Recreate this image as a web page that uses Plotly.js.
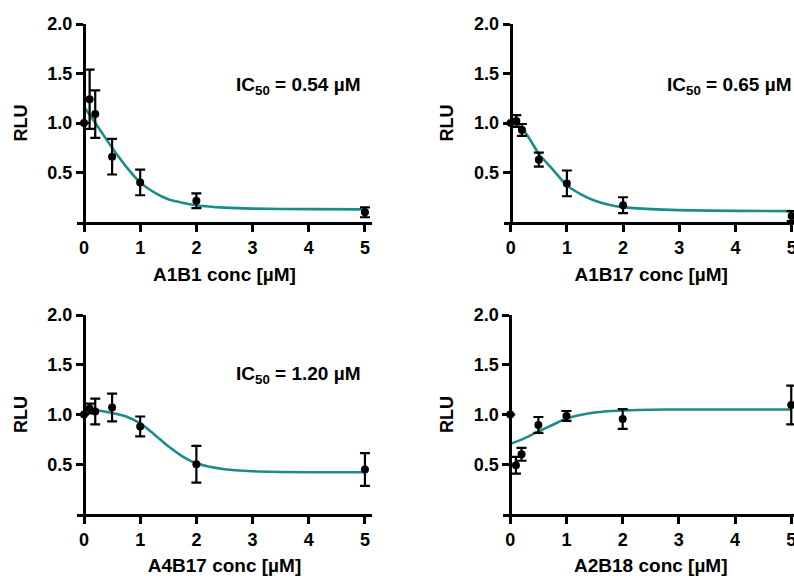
<!DOCTYPE html>
<html>
<head>
<meta charset="utf-8">
<script src="https://cdn.plot.ly/plotly-3.0.1.min.js"></script>
<style>
html, body { margin: 0; padding: 0; overflow: hidden; background: #fff; }
#chart { width: 794px; height: 576px; overflow: hidden; }
</style>
</head>
<body>
<div id="chart"><div id="plot"></div></div>
<script>
// ---- data ----
const xConc = [0, 0.1, 0.2, 0.5, 1, 2, 5];

const a1b1Mean  = [1.0, 1.24, 1.09, 0.66, 0.40, 0.215, 0.098];
const a1b1Err   = [0, 0.30, 0.24, 0.18, 0.13, 0.075, 0.05];
const a1b17Mean = [1.0, 1.02, 0.93, 0.63, 0.39, 0.17, 0.06];
const a1b17Err  = [0, 0.06, 0.06, 0.07, 0.13, 0.08, 0.05];
const a4b17Mean = [1.0, 1.06, 1.03, 1.07, 0.88, 0.50, 0.447];
const a4b17Err  = [0, 0.05, 0.13, 0.14, 0.10, 0.185, 0.165];
const a2b18Mean = [1.0, 0.49, 0.60, 0.895, 0.985, 0.955, 1.095];
const a2b18Err  = [0, 0.085, 0.065, 0.08, 0.05, 0.10, 0.195];

// fitted curves
const xFit     = [0, 0.25, 0.5, 0.75, 1, 1.25, 1.5, 1.75, 2, 2.5, 3, 4, 5];
const a1b1Fit  = [1.163, 0.96, 0.75, 0.56, 0.40, 0.30, 0.23, 0.195, 0.17, 0.145, 0.135, 0.13, 0.128];
const a1b17Fit = [1.03, 0.91, 0.69, 0.53, 0.37, 0.28, 0.215, 0.175, 0.15, 0.13, 0.12, 0.112, 0.11];
const a4b17Fit = [1.05, 1.04, 1.016, 0.98, 0.91, 0.80, 0.68, 0.58, 0.51, 0.45, 0.43, 0.42, 0.42];
const a2b18Fit = [0.705, 0.76, 0.83, 0.895, 0.96, 0.995, 1.02, 1.033, 1.04, 1.048, 1.05, 1.05, 1.05];

const compounds = ["A1B1", "A1B17", "A4B17", "A2B18"];
const ic50Labels = ["IC<sub>50</sub> = 0.54 µM", "IC<sub>50</sub> = 0.65 µM", "IC<sub>50</sub> = 1.20 µM", ""];
const xTicks = [0, 1, 2, 3, 4, 5];
const yTicks = [0.5, 1.0, 1.5, 2.0];
const yTickText = ["0.5", "1.0", "1.5", "2.0"];

// ---- drawing ----
const W = 810, H = 576;
const teal = "#1b8c89";
const FONT = "Liberation Sans, Arial, sans-serif";

const means = [a1b1Mean, a1b17Mean, a4b17Mean, a2b18Mean];
const errs = [a1b1Err, a1b17Err, a4b17Err, a2b18Err];
const fits = [a1b1Fit, a1b17Fit, a4b17Fit, a2b18Fit];

// panel geometry in pixels: [xLeft, xRight, yAxisX, yTop, yBottom]
const geo = [
  [77, 372, 84, 24, 222],
  [503.7, 798.7, 510.7, 24, 222],
  [77, 372, 84, 315, 514],
  [503.3, 798.3, 510.3, 315, 514]
];
const annoPos = [[298, 86], [729, 86], [298, 375], [0, 0]];

const traces = [];
const layout = {
  width: W, height: H,
  margin: {l: 0, r: 0, t: 0, b: 0},
  paper_bgcolor: "#fff", plot_bgcolor: "rgba(0,0,0,0)",
  showlegend: false,
  font: {family: FONT, color: "#000", weight: "bold"},
  annotations: []
};

for (let i = 0; i < 4; i++) {
  const sfx = i === 0 ? "" : String(i + 1);
  const xa = "x" + sfx, ya = "y" + sfx;
  traces.push({
    x: xFit, y: fits[i], xaxis: xa, yaxis: ya,
    mode: "lines", line: {color: teal, width: 2.6, shape: "spline", smoothing: 0.8},
    hoverinfo: "skip", cliponaxis: false
  });
  traces.push({
    x: xConc, y: means[i], xaxis: xa, yaxis: ya,
    mode: "markers", marker: {color: "#000", size: 8},
    error_y: {type: "data", array: errs[i], visible: true, color: "#000", thickness: 2.2, width: 5},
    cliponaxis: false
  });
  const g = geo[i];
  const pxPerUnit = (g[1] - g[0]) / 5.25;
  const r0 = -(g[2] - g[0]) / pxPerUnit;
  layout["xaxis" + sfx] = {
    domain: [g[0] / W, g[1] / W],
    range: [r0, r0 + 5.25],
    anchor: ya,
    showline: true, linecolor: "#000", linewidth: 3,
    ticks: "outside", ticklen: 7, tickwidth: 3, tickcolor: "#000",
    tickvals: xTicks, ticktext: xTicks.map(String),
    tickfont: {family: FONT, size: 18, color: "#000", weight: "bold"},
    showgrid: false, zeroline: false, fixedrange: true,
    title: {text: compounds[i] + " conc [µM]", font: {family: FONT, size: 19, color: "#000", weight: "bold"}, standoff: 12}
  };
  layout["yaxis" + sfx] = {
    domain: [1 - g[4] / H, 1 - g[3] / H],
    range: [0, 2],
    anchor: "free", position: g[2] / W,
    showline: true, linecolor: "#000", linewidth: 3,
    ticks: "outside", ticklen: 7, tickwidth: 3, tickcolor: "#000",
    tickvals: yTicks, ticktext: yTickText,
    tickfont: {family: FONT, size: 18, color: "#000", weight: "bold"},
    showgrid: false, zeroline: false, fixedrange: true,
    title: {text: "RLU", font: {family: FONT, size: 18, color: "#000", weight: "bold"}, standoff: 14}
  };
  if (ic50Labels[i]) {
    layout.annotations.push({
      text: ic50Labels[i], xref: "paper", yref: "paper",
      x: annoPos[i][0] / W, y: 1 - annoPos[i][1] / H,
      xanchor: "center", yanchor: "middle", showarrow: false,
      font: {family: FONT, size: 19, color: "#000", weight: "bold"}
    });
  }
}

Plotly.newPlot("plot", traces, layout, {displayModeBar: false, staticPlot: true});
</script>
</body>
</html>
